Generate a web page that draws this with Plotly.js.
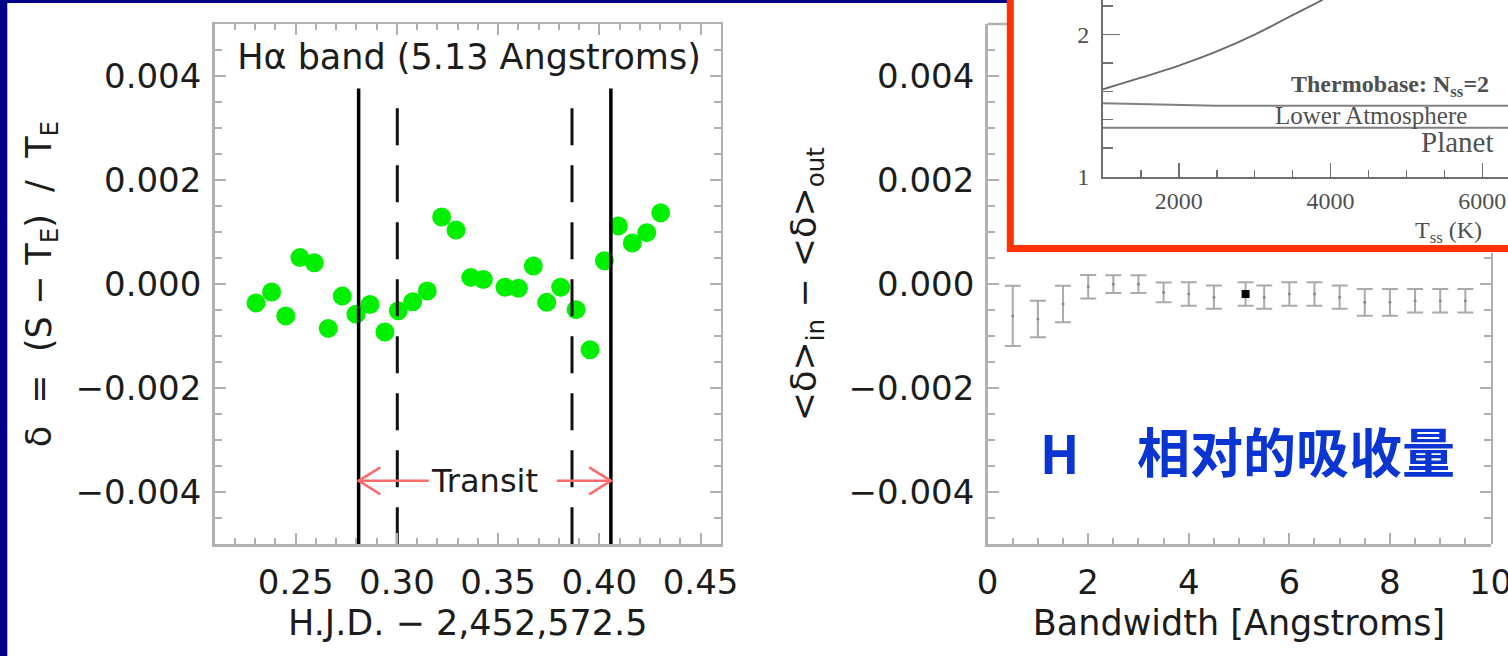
<!DOCTYPE html>
<html>
<head>
<meta charset="utf-8">
<script src="https://cdn.plot.ly/plotly-3.0.1.min.js"></script>
<style>
  html, body { margin: 0; padding: 0; background: #ffffff; }
  #chart { width: 1508px; height: 656px; }
</style>
</head>
<body>
<div id="chart"></div>
<script>
// ---------------- DATA ----------------
// Left panel: H-alpha band light curve
const hjd = [0.2304, 0.2381, 0.2451, 0.2521, 0.2592, 0.2661, 0.2730, 0.2798, 0.2867, 0.2941,
             0.3007, 0.3078, 0.3150, 0.3221, 0.3292, 0.3365, 0.3427, 0.3534, 0.3600, 0.3674,
             0.3740, 0.3809, 0.3885, 0.3954, 0.4025, 0.4094, 0.4163, 0.4234, 0.4303];
const delta = [-0.00036, -0.00015, -0.00061, 0.00051, 0.00041, -0.00085, -0.00023, -0.00058, -0.00039, -0.00092,
               -0.00051, -0.00034, -0.00013, 0.00129, 0.00104, 0.00013, 0.00009, -0.00006, -0.00008, 0.00035,
               -0.00035, -0.00006, -0.00049, -0.00126, 0.00045, 0.00112, 0.00079, 0.00099, 0.00137];
const outerContacts = [0.2811, 0.4057];   // solid lines
const innerContacts = [0.3002, 0.3865];   // dashed lines
const contactLineTop = 0.00376;
const transitArrowY = -0.00378;
const transitLabel = "Transit";
const leftTitle = "Hα band (5.13 Angstroms)";

// Right panel: in-transit minus out-of-transit vs bandwidth
const bandwidth = [0.5, 1.0, 1.5, 2.0, 2.5, 3.0, 3.5, 4.0, 4.5, 5.13, 5.5, 6.0, 6.5, 7.0, 7.5, 8.0, 8.5, 9.0, 9.5];
const meanDiff  = [-0.00061, -0.00067, -0.00038, -0.00005, 0.00000, 0.00000, -0.00016, -0.00019, -0.00025, -0.00019,
                   -0.00025, -0.00019, -0.00019, -0.00025, -0.00035, -0.00035, -0.00032, -0.00032, -0.00032];
const errDiff   = [0.00058, 0.00035, 0.00035, 0.000225, 0.00017, 0.00017, 0.00019, 0.000225, 0.000225, 0.000225,
                   0.000225, 0.000225, 0.000225, 0.000225, 0.000257, 0.000257, 0.000225, 0.000225, 0.000225];
const highlightBand = 5.13;

// Inset: radius vs temperature
const tss = [1000, 1500, 2000, 2500, 3000, 3500, 3900, 4000];
const radius = [1.614, 1.695, 1.780, 1.880, 1.998, 2.135, 2.245, 2.280];
const layerT = [1000, 2500, 6400];
const lowerAtmTop = [1.515, 1.498, 1.498];
const planetTop = [1.344, 1.344, 1.344];

// ---------------- LAYOUT GEOMETRY ----------------
const W = 1508, H = 656;
const FONT = "DejaVu Sans";
const AX = "#b0b0b0";
const TXT = "#1c1c1c";

const yDom = [1 - 544.3 / H, 1 - 24 / H];
const yRange = [-0.005, 0.005];
const x1Dom = [214.7 / W, 720.8 / W];
const x1Range = [0.21, 0.46];
const x2Dom = [987.6 / W, 1490.5 / W];
const x2Range = [0, 10];
const y4Dom = [yDom[0], 1 - 253 / H];
const y4Range = [yRange[0], yRange[0] + (y4Dom[1] - y4Dom[0]) / (yDom[1] - yDom[0]) * (yRange[1] - yRange[0])];

const x3Dom = [1103 / W, 1];
const x3Range = [1000, 1000 + (1508 - 1103) / 75.85 * 1000];
const y3Dom = [1 - 176.7 / H, 1];
const y3Range = [1, 1 + 176.7 / 142.4];

// pixel -> data helpers (for arrowhead sizes)
const pxPerX1 = (x1Dom[1] - x1Dom[0]) * W / (x1Range[1] - x1Range[0]);
const pxPerY = (yDom[1] - yDom[0]) * H / (yRange[1] - yRange[0]);

// ---------------- TRACES ----------------
const traces = [];

traces.push({
  type: "scatter", mode: "markers", x: hjd, y: delta, xaxis: "x", yaxis: "y",
  marker: { color: "#00f000", size: 19, line: { width: 0 } }
});

outerContacts.forEach(c => traces.push({
  type: "scatter", mode: "lines", x: [c, c], y: [yRange[0], contactLineTop], xaxis: "x", yaxis: "y",
  line: { color: "#000000", width: 3.5 }
}));
innerContacts.forEach(c => traces.push({
  type: "scatter", mode: "lines", x: [c, c], y: [yRange[0], contactLineTop], xaxis: "x", yaxis: "y",
  line: { color: "#111111", width: 3, dash: "37px,20px" }
}));

// Transit arrows
const mid = (outerContacts[0] + outerContacts[1]) / 2;
const hdx = 21.7 / pxPerX1, hdy = 13.5 / pxPerY;
const arrowColor = "#ff6a6a";
traces.push({
  type: "scatter", mode: "lines", xaxis: "x", yaxis: "y",
  x: [outerContacts[0], mid - 56 / pxPerX1, null,
      outerContacts[0] + hdx, outerContacts[0], outerContacts[0] + hdx],
  y: [transitArrowY, transitArrowY, null,
      transitArrowY + hdy, transitArrowY, transitArrowY - hdy],
  line: { color: arrowColor, width: 2.5 }
});
traces.push({
  type: "scatter", mode: "lines", xaxis: "x", yaxis: "y",
  x: [mid + 72 / pxPerX1, outerContacts[1], null,
      outerContacts[1] - hdx, outerContacts[1], outerContacts[1] - hdx],
  y: [transitArrowY, transitArrowY, null,
      transitArrowY + hdy, transitArrowY, transitArrowY - hdy],
  line: { color: arrowColor, width: 2.5 }
});

// Right panel error bars
traces.push({
  type: "scatter", mode: "markers", x: bandwidth, y: meanDiff, xaxis: "x2", yaxis: "y2",
  marker: { color: "#8a8a8a", size: 3 },
  error_y: { type: "data", array: errDiff, visible: true, color: "#aaaaaa", thickness: 2, width: 8 }
});
const hi = bandwidth.indexOf(highlightBand);
traces.push({
  type: "scatter", mode: "markers", x: [bandwidth[hi]], y: [meanDiff[hi]], xaxis: "x2", yaxis: "y2",
  marker: { color: "#000000", size: 8, symbol: "square" }
});
// dummy trace for right frame axis
traces.push({ type: "scatter", mode: "markers", x: [null], y: [null], xaxis: "x2", yaxis: "y4" });

// Inset curve and layers
traces.push({
  type: "scatter", mode: "lines", x: tss, y: radius, xaxis: "x3", yaxis: "y3",
  line: { color: "#6a6a6a", width: 1.8, shape: "spline" }
});
traces.push({
  type: "scatter", mode: "lines", x: layerT, y: lowerAtmTop, xaxis: "x3", yaxis: "y3",
  line: { color: "#808080", width: 2 }
});
traces.push({
  type: "scatter", mode: "lines", x: layerT, y: planetTop, xaxis: "x3", yaxis: "y3",
  line: { color: "#808080", width: 2 }
});

// ---------------- AXES ----------------
const tickFont = { family: FONT, size: 34, color: TXT };
const titleFont = { family: FONT, size: 35, color: TXT };

function mainAxis(extra) {
  return Object.assign({
    showline: true, linecolor: AX, linewidth: 2.5,
    ticks: "inside", ticklen: 11, tickwidth: 2, tickcolor: AX,
    showgrid: false, zeroline: false, tickfont: tickFont,
    automargin: false, fixedrange: true, ticklabeloverflow: "allow"
  }, extra);
}

const layout = {
  width: W, height: H,
  margin: { l: 0, r: 0, t: 0, b: 0 },
  paper_bgcolor: "#ffffff", plot_bgcolor: "rgba(0,0,0,0)",
  showlegend: false, hovermode: false,
  title: {
    text: leftTitle, font: { family: FONT, size: 35, color: TXT },
    x: 469 / W, y: 1 - 57 / H, xref: "paper", yref: "paper", xanchor: "center", yanchor: "middle"
  },
  xaxis: mainAxis({
    domain: x1Dom, range: x1Range, anchor: "y", mirror: "ticks",
    dtick: 0.05, tick0: 0, tickformat: ".2f", ticklabelstandoff: 6,
    minor: { dtick: 0.01, tick0: 0, ticks: "inside", ticklen: 6, tickwidth: 2, tickcolor: AX },
    title: { text: "H.J.D. − 2,452,572.5", font: titleFont, standoff: 10 }
  }),
  yaxis: mainAxis({
    domain: yDom, range: yRange, anchor: "x", mirror: "ticks",
    dtick: 0.002, tick0: 0, tickformat: ".3f", ticklabelstandoff: 4,
    minor: { dtick: 0.0005, tick0: 0, ticks: "inside", ticklen: 7, tickwidth: 2, tickcolor: AX },
    title: { text: "δ  =  (S − T<sub>E</sub>)  /  T<sub>E</sub>", font: titleFont, standoff: 14 }
  }),
  xaxis2: mainAxis({
    domain: x2Dom, range: x2Range, anchor: "y2",
    dtick: 2, tick0: 0, ticklabelstandoff: 6,
    minor: { dtick: 0.5, tick0: 0, ticks: "inside", ticklen: 6, tickwidth: 2, tickcolor: AX },
    title: { text: "Bandwidth [Angstroms]", font: titleFont, standoff: 10 }
  }),
  yaxis2: mainAxis({
    domain: yDom, range: yRange, anchor: "x2",
    dtick: 0.002, tick0: 0, tickformat: ".3f", ticklabelstandoff: 4,
    minor: { dtick: 0.0005, tick0: 0, ticks: "inside", ticklen: 7, tickwidth: 2, tickcolor: AX },
    title: { text: "&lt;δ&gt;<sub>in</sub> − &lt;δ&gt;<sub>out</sub>", font: titleFont, standoff: 21 }
  }),
  yaxis4: mainAxis({
    domain: y4Dom, range: y4Range, anchor: "x2", side: "right",
    dtick: 0.002, tick0: 0, showticklabels: false,
    minor: { dtick: 0.0005, tick0: 0, ticks: "inside", ticklen: 7, tickwidth: 2, tickcolor: AX }
  }),
  xaxis3: {
    domain: x3Dom, range: x3Range, anchor: "y3",
    showline: true, linecolor: "#707070", linewidth: 2,
    ticks: "inside", ticklen: 14, tickwidth: 1.5, tickcolor: "#707070",
    dtick: 2000, tick0: 0, showgrid: false, zeroline: false, ticklabelstandoff: 1,
    minor: { dtick: 500, tick0: 0, ticks: "inside", ticklen: 7, tickwidth: 1.5, tickcolor: "#707070" },
    tickfont: { family: "Liberation Serif", size: 24, color: "#505050" },
    automargin: false, fixedrange: true, ticklabeloverflow: "allow"
  },
  yaxis3: {
    domain: y3Dom, range: y3Range, anchor: "x3",
    showline: true, linecolor: "#707070", linewidth: 2,
    ticks: "inside", ticklen: 17, tickwidth: 1.5, tickcolor: "#707070",
    dtick: 1, tick0: 0, showgrid: false, zeroline: false, ticklabelstandoff: 7,
    minor: { dtick: 0.2, tick0: 0, ticks: "inside", ticklen: 10, tickwidth: 1.5, tickcolor: "#707070" },
    tickfont: { family: "Liberation Serif", size: 24, color: "#505050" },
    automargin: false, fixedrange: true
  },
  shapes: [
    { type: "rect", xref: "paper", yref: "paper", x0: 0, x1: 7.3 / W, y0: -0.01, y1: 1.01,
      fillcolor: "#000088", line: { width: 0 }, layer: "below" },
    { type: "rect", xref: "paper", yref: "paper", x0: 0, x1: 1010 / W, y0: 1 - 3 / H, y1: 1.01,
      fillcolor: "#000088", line: { width: 0 }, layer: "below" },
    { type: "line", xref: "paper", yref: "paper", x0: 987.6 / W, x1: 1007 / W, y0: 1 - 24 / H, y1: 1 - 24 / H,
      line: { color: AX, width: 2.5 }, layer: "below" },
    { type: "rect", xref: "paper", yref: "paper", x0: 1010.3 / W, x1: 1.05, y0: 1 - 248.5 / H, y1: 1.05,
      fillcolor: "#ffffff", line: { color: "#ff3300", width: 7 }, layer: "below" }
  ],
  annotations: [
    { xref: "x", yref: "y", x: mid, y: transitArrowY, text: transitLabel, showarrow: false,
      font: { family: FONT, size: 32, color: TXT }, xanchor: "center", yanchor: "middle" },
    { xref: "paper", yref: "paper", x: 1059 / W, y: 1 - 452 / H, text: "H", showarrow: false,
      font: { family: "Noto Sans CJK SC", size: 52, color: "#0a35d2", weight: 700 },
      xanchor: "center", yanchor: "middle" },
    { xref: "paper", yref: "paper", x: 1296 / W, y: 1 - 450 / H, text: "相对的吸收量", showarrow: false,
      font: { family: "Noto Sans CJK SC", size: 53, color: "#0a35d2", weight: 700 },
      xanchor: "center", yanchor: "middle" },
    { xref: "paper", yref: "paper", x: 1289 / W, y: 1 - 86 / H, text: "Thermobase: N<sub>ss</sub>=2", showarrow: false,
      font: { family: "Liberation Serif", size: 24, color: "#505050", weight: 700 },
      xanchor: "left", yanchor: "middle" },
    { xref: "paper", yref: "paper", x: 1371 / W, y: 1 - 116 / H, text: "Lower Atmosphere", showarrow: false,
      font: { family: "Liberation Serif", size: 25, color: "#505050" },
      xanchor: "center", yanchor: "middle" },
    { xref: "paper", yref: "paper", x: 1457 / W, y: 1 - 142 / H, text: "Planet", showarrow: false,
      font: { family: "Liberation Serif", size: 29, color: "#505050" },
      xanchor: "center", yanchor: "middle" },
    { xref: "paper", yref: "paper", x: 1448 / W, y: 1 - 232 / H, text: "T<sub>ss</sub> (K)", showarrow: false,
      font: { family: "Liberation Serif", size: 24, color: "#505050" },
      xanchor: "center", yanchor: "middle" }
  ]
};

Plotly.newPlot("chart", traces, layout, { staticPlot: true, displayModeBar: false });
</script>
</body>
</html>
